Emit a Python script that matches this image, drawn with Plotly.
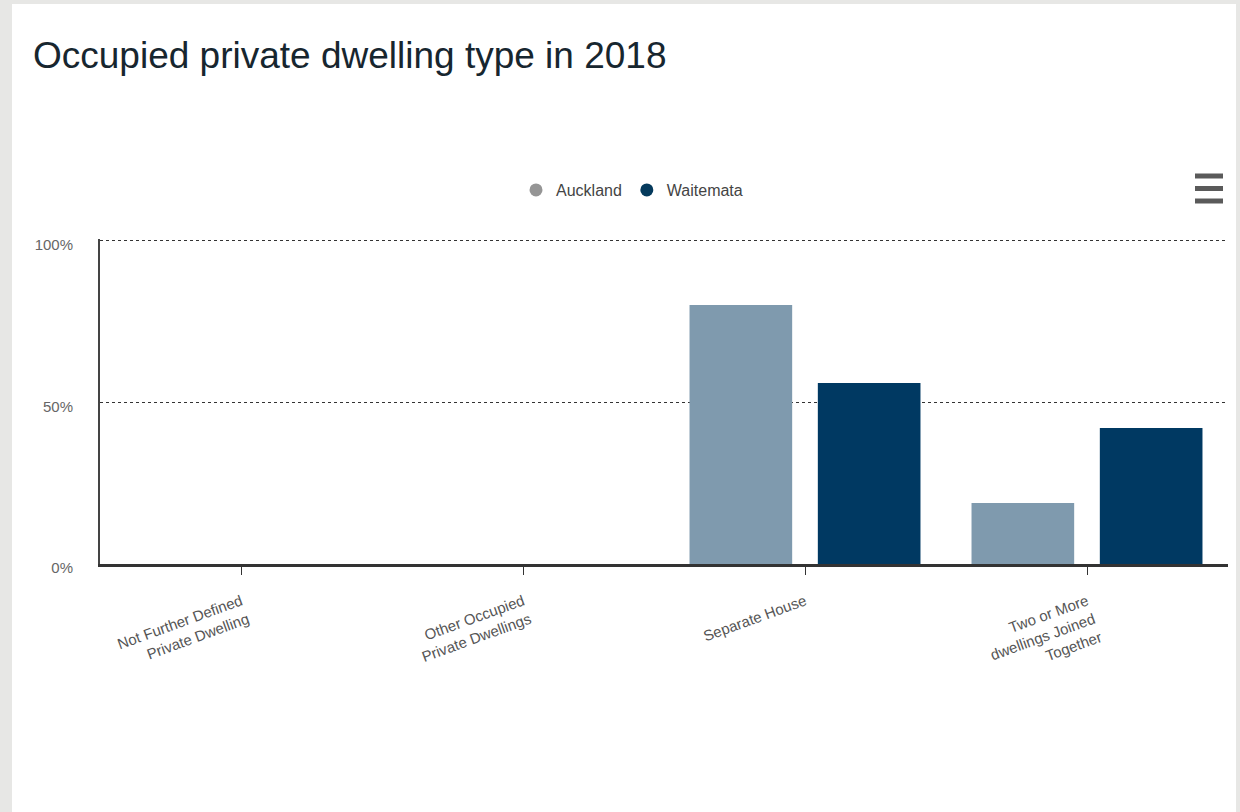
import plotly.graph_objects as go

# Occupied private dwelling type, share of occupied dwellings (%)
categories = [
    "Not Further Defined<br>Private Dwelling",
    "Other Occupied<br>Private Dwellings",
    "Separate House",
    "Two or More<br>dwellings Joined<br>Together",
]
auckland = [0.0, 0.0, 80.2, 18.9]
waitemata = [0.0, 0.0, 56.0, 42.1]
series_names = ["Auckland", "Waitemata"]
y_ticks = [0, 50, 100]
y_tick_labels = ["0%", "50%", "100%"]

FONT = "Liberation Sans, Arial, sans-serif"
BAR_COLORS = ["#7f9aae", "#003962"]
LEGEND_COLORS = ["#959595", "#053a5c"]

W, H = 1240, 812
ML, MR, MT, MB = 100, 12, 239, 248
PW, PH = W - ML - MR, H - MT - MB
Y_TOP = 100.6


def px_x(px):
    return (px - ML) / PW


def px_y(py):
    return (H - MB - py) / PH


fig = go.Figure()
for name, vals, col in zip(series_names, [auckland, waitemata], BAR_COLORS):
    fig.add_trace(go.Bar(x=categories, y=vals, name=name, marker_color=col,
                         marker_line_width=0, showlegend=False))

# round legend symbols
for name, col in zip(series_names, LEGEND_COLORS):
    fig.add_trace(go.Scatter(x=[None], y=[None], mode="markers", name=name,
                             marker=dict(symbol="circle", size=13, color=col)))

shapes = [
    # white card on the grey page
    dict(type="rect", xref="paper", yref="paper", layer="below",
         x0=px_x(12), x1=px_x(1236), y0=px_y(812), y1=px_y(4),
         fillcolor="white", line_width=0),
]
# menu icon
for py in (176, 188.5, 201):
    shapes.append(dict(type="line", xref="paper", yref="paper",
                       x0=px_x(1195), x1=px_x(1223), y0=px_y(py), y1=px_y(py),
                       line=dict(color="#5a5a5a", width=5)))

fig.update_layout(
    width=W, height=H,
    margin=dict(l=ML, r=MR, t=MT, b=MB),
    paper_bgcolor="#e7e7e5",
    plot_bgcolor="rgba(0,0,0,0)",
    barmode="group",
    bargap=0.09,
    bargroupgap=0.2,
    font=dict(family=FONT, color="#666666"),
    title=dict(text="Occupied private dwelling type in 2018",
               xref="container", yref="container",
               x=33 / W, xanchor="left", y=1 - 55 / H, yanchor="middle",
               font=dict(family=FONT, size=37, color="#17262f")),
    legend=dict(orientation="h", xref="paper", yref="paper",
                x=px_x(632), xanchor="center", y=px_y(190), yanchor="middle",
                font=dict(family=FONT, size=16, color="#444444"),
                itemwidth=30, bgcolor="rgba(0,0,0,0)"),
    shapes=shapes,
    xaxis=dict(
        type="category",
        showline=True, linecolor="#333333", linewidth=3,
        ticks="outside", ticklen=8, tickcolor="#333333", tickwidth=1,
        tickangle=-20,
        ticklabelstandoff=12,
        tickfont=dict(family=FONT, size=15, color="#555555"),
        showgrid=False, zeroline=False, fixedrange=True,
    ),
    yaxis=dict(
        range=[0, Y_TOP],
        tickvals=y_ticks, ticktext=y_tick_labels,
        tickfont=dict(family=FONT, size=15, color="#666666"),
        ticklabelstandoff=22,
        ticklabelshift=4,
        showline=True, linecolor="#444444", linewidth=2,
        showgrid=True, gridcolor="#333333", gridwidth=1.4, griddash="dot",
        zeroline=False, fixedrange=True,
    ),
)

fig.write_html("out.html")
